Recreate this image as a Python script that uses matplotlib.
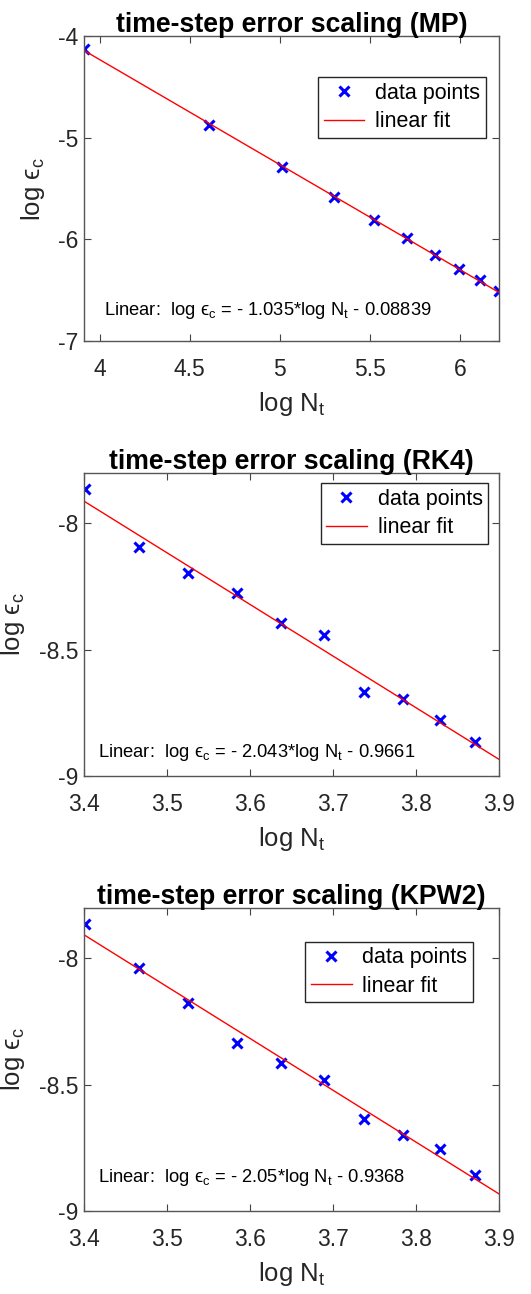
import matplotlib.pyplot as plt
import numpy as np

plt.rcParams['font.family'] = ['Liberation Sans', 'DejaVu Sans']
plt.rcParams['mathtext.fontset'] = 'custom'
plt.rcParams['mathtext.rm'] = 'Liberation Sans'
plt.rcParams['mathtext.it'] = 'Liberation Sans:italic'
plt.rcParams['mathtext.bf'] = 'Liberation Sans:bold'
plt.rcParams['mathtext.fallback'] = 'stixsans'

# log N_t / log eps_c for the three integrators
logN_mp = [3.912, 4.605, 5.011, 5.298, 5.521, 5.704, 5.858, 5.991, 6.109, 6.215]
loge_mp = [-4.128, -4.868, -5.288, -5.586, -5.809, -5.989, -6.153, -6.288, -6.399, -6.504]

logN_rk = [3.401, 3.466, 3.526, 3.584, 3.638, 3.689, 3.738, 3.784, 3.829, 3.871]
loge_rk4 = [-7.865, -8.093, -8.198, -8.276, -8.396, -8.442, -8.667, -8.695, -8.779, -8.866]
loge_kpw2 = [-7.864, -8.040, -8.178, -8.334, -8.413, -8.482, -8.636, -8.699, -8.753, -8.858]

# linear fit coefficients: slope, intercept
fit_mp = (-1.035, -0.08839)
fit_rk4 = (-2.043, -0.9661)
fit_kpw2 = (-2.05, -0.9368)

names = ['MP', 'RK4', 'KPW2']
xs = [logN_mp, logN_rk, logN_rk]
ys = [loge_mp, loge_rk4, loge_kpw2]
fits = [fit_mp, fit_rk4, fit_kpw2]
xlims = [(logN_mp[0], logN_mp[-1]), (3.4, 3.9), (3.4, 3.9)]
ylims = [(-7, -4), (-9, -7.8), (-9, -7.8)]
xticks = [[4, 4.5, 5, 5.5, 6], [3.4, 3.5, 3.6, 3.7, 3.8, 3.9], [3.4, 3.5, 3.6, 3.7, 3.8, 3.9]]
yticks = [[-7, -6, -5, -4], [-9, -8.5, -8], [-9, -8.5, -8]]

# axes rectangles and legend / label anchors (axes fractions)
boxes = [[0.158, 0.7365, 0.7815, 0.2353],
         [0.158, 0.4003, 0.7815, 0.2344],
         [0.158, 0.0641, 0.7815, 0.2344]]
leg_pos = [(0.968, 0.866), (0.974, 0.965), (0.937, 0.888)]
txt_pos = [(0.048, 0.085), (0.035, 0.064), (0.033, 0.097)]
ylab_x = [-0.089, -0.137, -0.137]

fig = plt.figure(figsize=(5.31, 12.94), dpi=100)

for i in range(3):
    ax = fig.add_axes(boxes[i])
    a, b = fits[i]
    xf = np.array(xlims[i])
    ax.plot(xs[i], ys[i], 'x', color='blue', ms=7, mew=2.2, label='data points')
    ax.plot(xf, a * xf + b, '-', color='red', lw=1.0, label='linear fit')

    ax.set_xlim(xlims[i])
    ax.set_ylim(ylims[i])
    ax.set_xticks(xticks[i])
    ax.set_yticks(yticks[i])
    ax.set_xticklabels(['%g' % t for t in xticks[i]])
    ax.set_yticklabels(['%g' % t for t in yticks[i]])
    ax.tick_params(direction='in', top=True, right=True, length=5, width=0.8,
                   color='#444444', labelcolor='#262626', labelsize=16.5)
    ax.tick_params(axis='x', pad=12)
    ax.tick_params(axis='y', pad=4)
    for sp in ax.spines.values():
        sp.set_edgecolor('#555555')
        sp.set_linewidth(1.0)

    ax.set_title('time-step error scaling (%s)' % names[i], fontsize=19.2,
                 fontweight='bold', pad=3)
    ax.set_xlabel(r'log N$_{\rm t}$', fontsize=18.5, color='#262626', labelpad=7)
    ax.set_ylabel('log ϵ' + r'$_{\rm c}$', fontsize=18.5, color='#262626')
    ax.yaxis.set_label_coords(ylab_x[i], 0.5)

    ax.legend(loc='upper right', bbox_to_anchor=leg_pos[i], fontsize=15.5,
              numpoints=1, fancybox=False, framealpha=1, edgecolor='#262626',
              borderpad=0.25, labelspacing=0.35, handlelength=1.9,
              handletextpad=0.5, borderaxespad=0)

    s = 'Linear:  log ϵ' + r'$_{\rm c}$' + ' = - %g*log N' % abs(a) + r'$_{\rm t}$' + ' - %g' % abs(b)
    ax.text(txt_pos[i][0], txt_pos[i][1], s, transform=ax.transAxes,
            fontsize=13.2, va='baseline', ha='left')

fig.savefig('out.png', dpi=100)
